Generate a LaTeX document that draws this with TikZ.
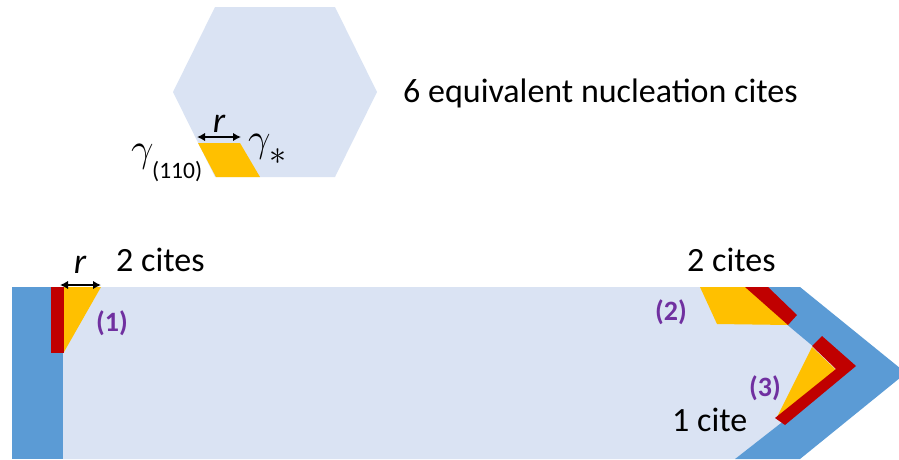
\RequirePackage{fix-cm}
\documentclass[tikz,border=0pt]{standalone}
\usepackage{fontspec}
\setmainfont{Carlito}
\usetikzlibrary{arrows.meta}
\definecolor{lightfill}{HTML}{DAE3F3}
\definecolor{bandblue}{HTML}{5B9BD5}
\definecolor{nucorange}{HTML}{FFC000}
\definecolor{wallred}{HTML}{C00000}
\definecolor{labpurple}{HTML}{7030A0}
\tikzset{
  lbl/.style={inner sep=0pt, font=\fontsize{34}{40}\selectfont},
  num/.style={inner sep=0pt, text=labpurple, font=\fontsize{28}{32}\selectfont\bfseries},
  rlab/.style={inner sep=0pt, font=\fontsize{36}{40}\selectfont\itshape},
  gam/.style={inner sep=0pt, anchor=base west, font=\fontsize{40}{44}\selectfont},
  dim/.style={line width=2.6pt, {Latex[length=8pt,width=8.5pt]}-{Latex[length=8pt,width=8.5pt]}},
}
\begin{document}
\begin{tikzpicture}[x=1pt,y=-1pt]
\useasboundingbox (0,0) rectangle (899,459);
\clip (0,0) rectangle (899,459);
% hexagon
\fill[lightfill] (215,7) -- (335,7) -- (377,92) -- (335,177) -- (215,177) -- (173,92) -- cycle;
\fill[nucorange] (198,143) -- (240,143) -- (260,177) -- (216,177) -- cycle;
\coordinate (ha) at (197,137);
\coordinate (hb) at (241,137);
\draw[dim] (ha) -- (hb);
\node[rlab, anchor=base] (hr) at (219,132) {r};
\node[gam] (g1) at (131,161) {$\gamma$};
\node[inner sep=0pt, anchor=base west, font=\fontsize{23.5}{26}\selectfont] (g1s) at (152,178) {(110)};
\node[gam] (g2) at (248,151) {$\gamma$};
\node[inner sep=0pt, font=\fontsize{34}{36}\selectfont] (g2s) at (278,157) {$\ast$};
\node[lbl, anchor=base west] (t6) at (403,102) {6 equivalent nucleation cites};
% bottom slab
\fill[lightfill] (63,287) -- (800,287) -- (845,373) -- (735,459) -- (63,459) -- cycle;
\fill[bandblue] (12,287) rectangle (63,459);
\fill[bandblue] (742,287) -- (800,287) -- (906,373) -- (800,459) -- (735,459) -- (845,373) -- cycle;
% site (1)
\fill[nucorange] (64,287) -- (101,287) -- (64,352) -- cycle;
\fill[wallred] (51,287) rectangle (64,353);
\coordinate (ba) at (60,285);
\coordinate (bb) at (101,285);
\draw[dim] (ba) -- (bb);
\node[rlab, anchor=base] (br) at (80,273) {r};
\node[lbl, anchor=base west] (c1) at (116,271) {2 cites};
\node[num] (n1) at (112,323) {(1)};
% site (2)
\fill[nucorange] (700,287) -- (746,287) -- (789,325) -- (717,324) -- cycle;
\fill[wallred] (745,287) -- (768,287) -- (797,315) -- (788,325) -- cycle;
\node[lbl, anchor=base west] (c2) at (687,271) {2 cites};
\node[num] (n2) at (671,312) {(2)};
% site (3)
\fill[nucorange] (812,347) -- (836,370) -- (776,419) -- cycle;
\fill[wallred] (822,336) -- (856,366) -- (785,425) -- (775,418) -- (836,369) -- (812,346) -- cycle;
\node[lbl, anchor=base west] (c3) at (672,431) {1 cite};
\node[num] (n3) at (765,388) {(3)};
\end{tikzpicture}
\end{document}
